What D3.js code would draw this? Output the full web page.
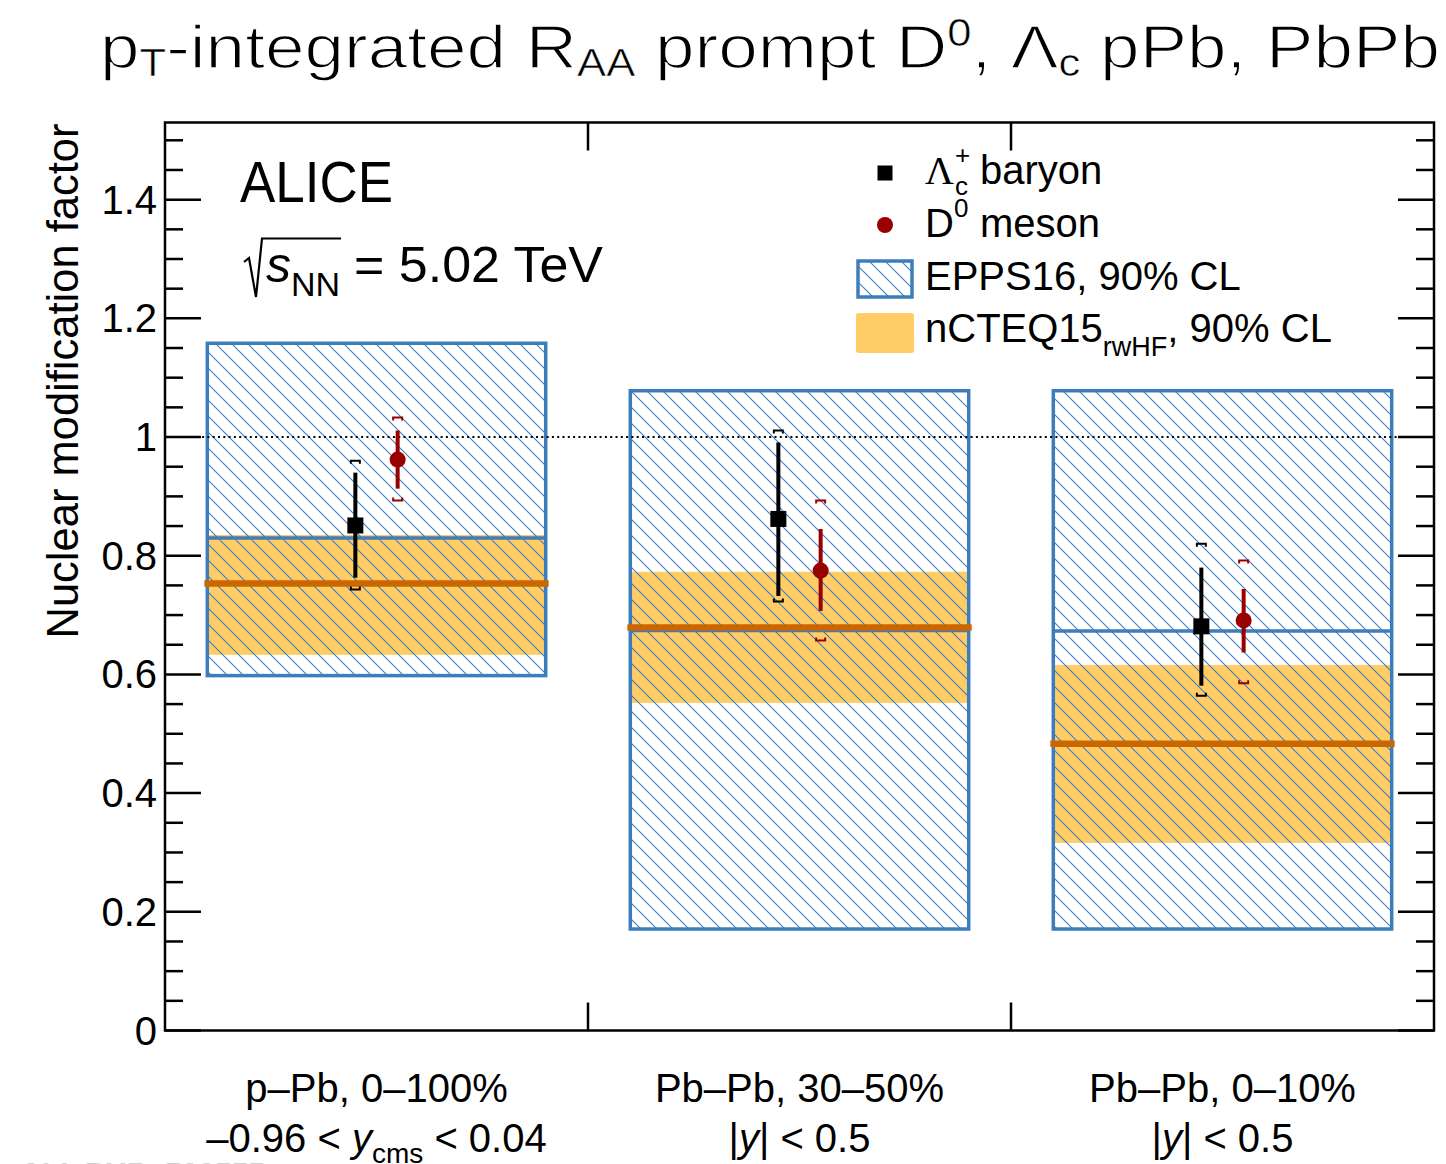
<!DOCTYPE html>
<html><head><meta charset="utf-8">
<script src="https://cdn.jsdelivr.net/npm/d3@7"></script>
<style>
body{margin:0;background:#fff;}
svg{display:block;}
text{font-family:"Liberation Sans",Arial,Helvetica,sans-serif;}
</style></head>
<body>
<svg id="chart" width="1446" height="1164"></svg>
<script>
// ---------------- data ----------------
const categories = ["p–Pb, 0–100%", "Pb–Pb, 30–50%", "Pb–Pb, 0–10%"];
const catRangePre = ["–0.96 < ", "|", "|"];
const catRangeVar = ["y", "y", "y"];
const catRangeSub = ["cms", "", ""];
const catRangePost = [" < 0.04", "| < 0.5", "| < 0.5"];

const lcVal     = [0.851, 0.862, 0.681];
const lcStatLo  = [0.763, 0.732, 0.581];
const lcStatHi  = [0.940, 0.991, 0.780];
const lcSystLo  = [0.743, 0.723, 0.564];
const lcSystHi  = [0.960, 1.011, 0.820];

const d0Val     = [0.962, 0.775, 0.691];
const d0StatLo  = [0.913, 0.707, 0.637];
const d0StatHi  = [1.011, 0.845, 0.744];
const d0SystLo  = [0.893, 0.657, 0.585];
const d0SystHi  = [1.033, 0.893, 0.792];

const eppsLo    = [0.598, 0.171, 0.171];
const eppsHi    = [1.158, 1.078, 1.078];
const eppsCen   = [0.830, 0.674, 0.673];

const ncteqLo   = [0.633, 0.552, 0.316];
const ncteqHi   = [0.835, 0.773, 0.616];
const ncteqCen  = [0.753, 0.679, 0.483];

const yMajorTicks = [0, 0.2, 0.4, 0.6, 0.8, 1, 1.2, 1.4];
const yTickLabels = ["0", "0.2", "0.4", "0.6", "0.8", "1", "1.2", "1.4"];

// ---------------- layout ----------------
const L = 165, R = 1434, T = 122.5, B = 1030.5;
const svg = d3.select("#chart");
const x = d3.scaleLinear().domain([0, 3]).range([L, R]);
const y = d3.scaleLinear().domain([0, 1.53]).range([B, T]);

const BLUE = "#3d7dbb", ORANGE = "#ffcc66", DORANGE = "#cc6600", RED = "#990000";

// hatch pattern
const defs = svg.append("defs");
const pat = defs.append("pattern").attr("id", "hatch").attr("patternUnits", "userSpaceOnUse")
  .attr("width", 16).attr("height", 16);
pat.append("path").attr("d", "M-4,-4 L20,20 M-4,12 L4,20 M12,-4 L20,4")
  .attr("stroke", BLUE).attr("stroke-width", 1.1).attr("fill", "none");

const data = categories.map((c, i) => ({i, c}));

// nCTEQ bands
svg.append("g").selectAll("rect").data(data).join("rect")
  .attr("x", d => x(d.i + 0.1)).attr("width", d => x(d.i + 0.9) - x(d.i + 0.1))
  .attr("y", d => y(ncteqHi[d.i])).attr("height", d => y(ncteqLo[d.i]) - y(ncteqHi[d.i]))
  .attr("fill", ORANGE);

// EPPS hatched boxes
svg.append("g").selectAll("rect").data(data).join("rect")
  .attr("x", d => x(d.i + 0.1)).attr("width", d => x(d.i + 0.9) - x(d.i + 0.1))
  .attr("y", d => y(eppsHi[d.i])).attr("height", d => y(eppsLo[d.i]) - y(eppsHi[d.i]))
  .attr("fill", "url(#hatch)").attr("stroke", BLUE).attr("stroke-width", 3.5);
svg.append("g").selectAll("line").data(data).join("line")
  .attr("x1", d => x(d.i + 0.1)).attr("x2", d => x(d.i + 0.9))
  .attr("y1", d => y(eppsCen[d.i])).attr("y2", d => y(eppsCen[d.i]))
  .attr("stroke", BLUE).attr("stroke-width", 3.5);
// nCTEQ central
svg.append("g").selectAll("line").data(data).join("line")
  .attr("x1", d => x(d.i + 0.093)).attr("x2", d => x(d.i + 0.907))
  .attr("y1", d => y(ncteqCen[d.i])).attr("y2", d => y(ncteqCen[d.i]))
  .attr("stroke", DORANGE).attr("stroke-width", 6.5);

// dotted line at 1
svg.append("line").attr("x1", L).attr("x2", R).attr("y1", y(1)).attr("y2", y(1))
  .attr("stroke", "#000").attr("stroke-width", 2).attr("stroke-dasharray", "2,3.3");

// points
function drawSeries(val, sLo, sHi, syLo, syHi, off, color, shape) {
  const g = svg.append("g");
  const bw = 4.5, bh = 3;
  data.forEach(d => {
    const cx = x(d.i + 0.5 + off);
    g.append("path").attr("d",
      `M${cx - bw},${y(syHi[d.i]) + bh} V${y(syHi[d.i])} H${cx + bw} V${y(syHi[d.i]) + bh}` +
      ` M${cx - bw},${y(syLo[d.i]) - bh} V${y(syLo[d.i])} H${cx + bw} V${y(syLo[d.i]) - bh}`)
      .attr("fill", "none").attr("stroke", color).attr("stroke-width", 2);
    g.append("line").attr("x1", cx).attr("x2", cx).attr("y1", y(sHi[d.i])).attr("y2", y(sLo[d.i]))
      .attr("stroke", color).attr("stroke-width", 4);
    if (shape === "square") {
      g.append("rect").attr("x", cx - 8).attr("y", y(val[d.i]) - 8).attr("width", 16).attr("height", 16).attr("fill", color);
    } else {
      g.append("circle").attr("cx", cx).attr("cy", y(val[d.i])).attr("r", 8).attr("fill", color);
    }
  });
}
drawSeries(lcVal, lcStatLo, lcStatHi, lcSystLo, lcSystHi, -0.05, "#000", "square");
drawSeries(d0Val, d0StatLo, d0StatHi, d0SystLo, d0SystHi, 0.05, RED, "circle");

// frame
svg.append("rect").attr("x", L).attr("y", T).attr("width", R - L).attr("height", B - T)
  .attr("fill", "none").attr("stroke", "#000").attr("stroke-width", 2.5);

// y ticks (left & right)
const minor = d3.range(0, 1.5301, 0.05);
const tg = svg.append("g").attr("stroke", "#000").attr("stroke-width", 2.5);
minor.forEach(v => {
  const isMajor = yMajorTicks.some(m => Math.abs(m - v) < 1e-6);
  const len = isMajor ? 36 : 18;
  tg.append("line").attr("x1", L).attr("x2", L + len).attr("y1", y(v)).attr("y2", y(v));
  tg.append("line").attr("x1", R).attr("x2", R - len).attr("y1", y(v)).attr("y2", y(v));
});
[1, 2].forEach(v => {
  tg.append("line").attr("x1", x(v)).attr("x2", x(v)).attr("y1", T).attr("y2", T + 28);
  tg.append("line").attr("x1", x(v)).attr("x2", x(v)).attr("y1", B).attr("y2", B - 28);
});

// tick labels
svg.append("g").selectAll("text").data(yMajorTicks).join("text")
  .attr("x", 157).attr("y", d => y(d) + 14).attr("text-anchor", "end")
  .attr("font-size", 40).text((d, i) => yTickLabels[i]);

// axis title
svg.append("text").attr("transform", `translate(78,381) rotate(-90)`)
  .attr("text-anchor", "middle").attr("font-size", 43.5).text("Nuclear modification factor");

// category labels
data.forEach(d => {
  const cx = x(d.i + 0.5);
  svg.append("text").attr("x", cx).attr("y", 1102).attr("text-anchor", "middle")
    .attr("font-size", 40).text(categories[d.i]);
  const t = svg.append("text").attr("x", cx).attr("y", 1152).attr("text-anchor", "middle").attr("font-size", 40);
  t.append("tspan").text(catRangePre[d.i]);
  t.append("tspan").attr("font-style", "italic").text(catRangeVar[d.i]);
  if (catRangeSub[d.i]) {
    t.append("tspan").attr("font-size", 28).attr("dy", 11).text(catRangeSub[d.i]);
    t.append("tspan").attr("dy", -11).text(catRangePost[d.i]);
  } else {
    t.append("tspan").text(catRangePost[d.i]);
  }
});

// title (thin geometric look: regular glyphs eroded by a white outline)
const title = svg.append("text").attr("x", 100).attr("y", 68)
  .attr("font-family", "'Open Sans', Lato, sans-serif").attr("font-weight", 300)
  .attr("font-size", 62).attr("textLength", 1340).attr("lengthAdjust", "spacingAndGlyphs")
  .attr("fill", "#000").attr("stroke", "#fff").attr("stroke-width", 1.5);
const SUBW = 0.6;
title.append("tspan").text("p");
title.append("tspan").attr("font-size", 38).attr("stroke-width", SUBW).attr("dy", 8).text("T");
title.append("tspan").attr("dy", -8).text("-integrated R");
title.append("tspan").attr("font-size", 38).attr("stroke-width", SUBW).attr("dy", 8).text("AA");
title.append("tspan").attr("dy", -8).text(" prompt D");
title.append("tspan").attr("font-size", 38).attr("stroke-width", SUBW).attr("dy", -22).text("0");
title.append("tspan").attr("dy", 22).text(", Λ");
title.append("tspan").attr("font-size", 38).attr("stroke-width", SUBW).attr("dy", 8).text("c");
title.append("tspan").attr("dy", -8).text(" pPb, PbPb");

// ALICE
svg.append("text").attr("x", 240).attr("y", 202).attr("font-size", 58)
  .attr("textLength", 153).attr("lengthAdjust", "spacingAndGlyphs").text("ALICE");
// sqrt s_NN
svg.append("path").attr("d", "M244,262 L249,258 L256,297 L262,238.5 L341,238.5")
  .attr("fill", "none").attr("stroke", "#000").attr("stroke-width", 2.2);
const st = svg.append("text").attr("x", 266).attr("y", 282).attr("font-size", 50);
st.append("tspan").attr("font-style", "italic").text("s");
st.append("tspan").attr("font-size", 34).attr("dy", 14).text("NN");
st.append("tspan").attr("dy", -14).attr("x", 354).attr("textLength", 249).attr("lengthAdjust", "spacingAndGlyphs").text("= 5.02 TeV");

// legend
const lg = svg.append("g");
lg.append("rect").attr("x", 877.5).attr("y", 165.5).attr("width", 15).attr("height", 15).attr("fill", "#000");
const lt1 = lg.append("text").attr("x", 925).attr("y", 184).attr("font-size", 40);
lt1.append("tspan").attr("font-family", "'Liberation Serif', 'Times New Roman', serif").text("Λ");
lt1.append("tspan").attr("font-size", 26).attr("dy", -20).attr("x", 955).text("+");
lt1.append("tspan").attr("font-size", 26).attr("dy", 31).attr("x", 955).text("c");
lt1.append("tspan").attr("dy", -11).attr("x", 980).text("baryon");

lg.append("circle").attr("cx", 885).attr("cy", 225).attr("r", 8).attr("fill", RED);
const lt2 = lg.append("text").attr("x", 925).attr("y", 237).attr("font-size", 40);
lt2.append("tspan").text("D");
lt2.append("tspan").attr("font-size", 26).attr("dy", -20).text("0");
lt2.append("tspan").attr("dy", 20).attr("x", 980).text("meson");

lg.append("rect").attr("x", 858).attr("y", 261).attr("width", 54).attr("height", 36)
  .attr("fill", "url(#hatch)").attr("stroke", BLUE).attr("stroke-width", 3.5);
lg.append("text").attr("x", 925).attr("y", 290).attr("font-size", 40).text("EPPS16, 90% CL");

lg.append("rect").attr("x", 856).attr("y", 313).attr("width", 58).attr("height", 40).attr("rx", 3)
  .attr("fill", ORANGE);
const lt4 = lg.append("text").attr("x", 925).attr("y", 342).attr("font-size", 40);
lt4.append("tspan").text("nCTEQ15");
lt4.append("tspan").attr("font-size", 27).attr("dy", 14).text("rwHF");
lt4.append("tspan").attr("dy", -14).text(", 90% CL");

// faint watermark at the bottom edge
svg.append("text").attr("x", 20).attr("y", 1183).attr("font-size", 30).attr("font-weight", "bold")
  .attr("fill", "#d0d0d0").text("ALI–PUB–500555");
</script>
</body></html>
